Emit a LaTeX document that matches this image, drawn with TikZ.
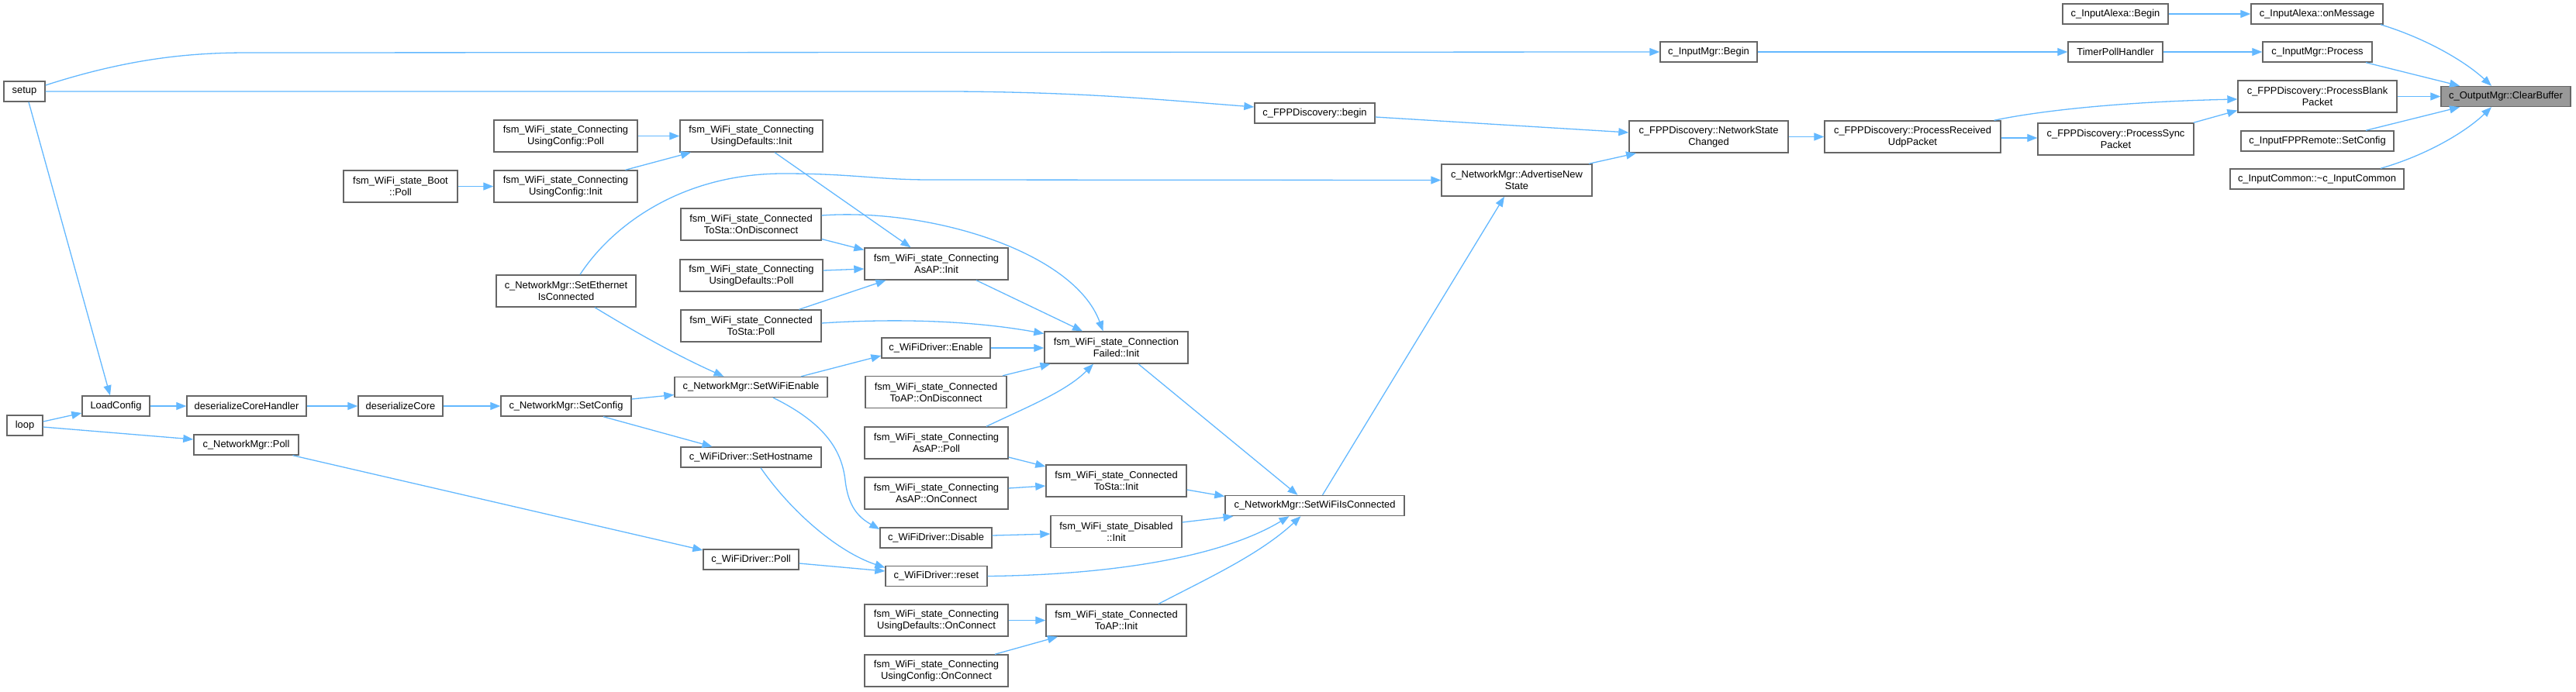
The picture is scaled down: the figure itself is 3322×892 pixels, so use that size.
\documentclass[tikz,border=0pt]{standalone}
\usepackage{fontspec}
\setmainfont{Liberation Sans}
\usetikzlibrary{arrows.meta}
\definecolor{edgeblue}{HTML}{63B8FF}
\definecolor{nodeborder}{HTML}{666666}
\definecolor{nodegray}{HTML}{999999}
\tikzset{
  box/.style={draw=nodeborder, fill=white, line width=1.4pt, inner sep=0pt, minimum height=26pt, align=center, font=\fontsize{12.9}{15}\selectfont},
  box2/.style={box, minimum height=41pt},
  focus/.style={box, fill=nodegray},
  edge/.style={draw=edgeblue, line width=1.3pt, -{Triangle[length=13pt,width=10pt]}}
}
\begin{document}
\begin{tikzpicture}[x=1pt,y=-1pt]
\useasboundingbox (0,0) rectangle (3322,892);
% column 1
\node[box, minimum width=53pt] (setup) at (31.5,118) {setup};
\node[box, minimum width=46pt] (loop) at (32,549) {loop};
% column 2
\node[box, minimum width=87pt] (loadconfig) at (149.5,524) {LoadConfig};
% column 3
\node[box, minimum width=154pt] (dch) at (318,524) {deserializeCoreHandler};
\node[box, minimum width=135pt] (nmpoll) at (317.5,574) {c\_NetworkMgr::Poll};
% column 4
\node[box2, minimum width=147pt] (bootpoll) at (516.5,240.5) {fsm\_WiFi\_state\_Boot\\::Poll};
\node[box, minimum width=109pt] (dc) at (516.5,524) {deserializeCore};
% column 5
\node[box2, minimum width=185pt] (ucpoll) at (729.5,175.5) {fsm\_WiFi\_state\_Connecting\\UsingConfig::Poll};
\node[box2, minimum width=185pt] (ucinit) at (729.5,240.5) {fsm\_WiFi\_state\_Connecting\\UsingConfig::Init};
\node[box2, minimum width=180pt] (ethernet) at (730,375.5) {c\_NetworkMgr::SetEthernet\\IsConnected};
\node[box, minimum width=168pt] (setconfig) at (730,524) {c\_NetworkMgr::SetConfig};
% column 6
\node[box2, minimum width=184pt] (udinit) at (969,175.5) {fsm\_WiFi\_state\_Connecting\\UsingDefaults::Init};
\node[box2, minimum width=181pt] (stadisc) at (968.5,289.5) {fsm\_WiFi\_state\_Connected\\ToSta::OnDisconnect};
\node[box2, minimum width=184pt] (udpoll) at (969,355.5) {fsm\_WiFi\_state\_Connecting\\UsingDefaults::Poll};
\node[box2, minimum width=181pt] (stapoll) at (968.5,420.5) {fsm\_WiFi\_state\_Connected\\ToSta::Poll};
\node[box, minimum width=197pt] (wifienable) at (968.5,499.5) {c\_NetworkMgr::SetWiFiEnable};
\node[box, minimum width=181pt] (hostname) at (968.5,590) {c\_WiFiDriver::SetHostname};
\node[box, minimum width=123pt] (wdpoll) at (968.5,722) {c\_WiFiDriver::Poll};
% column 7
\node[box2, minimum width=185pt] (asapinit) at (1207.5,340.5) {fsm\_WiFi\_state\_Connecting\\AsAP::Init};
\node[box, minimum width=140pt] (enable) at (1207,449) {c\_WiFiDriver::Enable};
\node[box2, minimum width=182pt] (apdisc) at (1207,506) {fsm\_WiFi\_state\_Connected\\ToAP::OnDisconnect};
\node[box2, minimum width=185pt] (asappoll) at (1207.5,571.5) {fsm\_WiFi\_state\_Connecting\\AsAP::Poll};
\node[box2, minimum width=185pt] (asaponconn) at (1207.5,636.5) {fsm\_WiFi\_state\_Connecting\\AsAP::OnConnect};
\node[box, minimum width=144pt] (disable) at (1207,694) {c\_WiFiDriver::Disable};
\node[box, minimum width=131pt] (reset) at (1207.5,743.5) {c\_WiFiDriver::reset};
\node[box2, minimum width=185pt] (udonconn) at (1207.5,800.5) {fsm\_WiFi\_state\_Connecting\\UsingDefaults::OnConnect};
\node[box2, minimum width=185pt] (ucononn) at (1207.5,865.5) {fsm\_WiFi\_state\_Connecting\\UsingConfig::OnConnect};
% column 8
\node[box2, minimum width=185pt] (cfinit) at (1439.5,448.5) {fsm\_WiFi\_state\_Connection\\Failed::Init};
\node[box2, minimum width=181pt] (stainit) at (1439.5,620.5) {fsm\_WiFi\_state\_Connected\\ToSta::Init};
\node[box2, minimum width=169pt] (disinit) at (1439.5,686) {fsm\_WiFi\_state\_Disabled\\::Init};
\node[box2, minimum width=181pt] (apinit) at (1439.5,800.5) {fsm\_WiFi\_state\_Connected\\ToAP::Init};
% column 9
\node[box, minimum width=155pt] (fbegin) at (1695.5,146) {c\_FPPDiscovery::begin};
\node[box, minimum width=231pt] (wifiis) at (1695.5,652.5) {c\_NetworkMgr::SetWiFiIsConnected};
% column 10
\node[box2, minimum width=194pt] (advertise) at (1956,232.5) {c\_NetworkMgr::AdvertiseNew\\State};
% column 11
\node[box, minimum width=125pt] (imbegin) at (2203.5,67) {c\_InputMgr::Begin};
\node[box2, minimum width=205pt] (nsc) at (2203.5,176.5) {c\_FPPDiscovery::NetworkState\\Changed};
% column 12
\node[box2, minimum width=227pt] (prup) at (2466.5,176.5) {c\_FPPDiscovery::ProcessReceived\\UdpPacket};
% column 13
\node[box, minimum width=136pt] (alexabegin) at (2728,18) {c\_InputAlexa::Begin};
\node[box, minimum width=122pt] (timerpoll) at (2728,67) {TimerPollHandler};
\node[box2, minimum width=201pt] (sync) at (2728.5,179.5) {c\_FPPDiscovery::ProcessSync\\Packet};
% column 14
\node[box, minimum width=170pt] (onmsg) at (2988,18) {c\_InputAlexa::onMessage};
\node[box, minimum width=141pt] (process) at (2988.5,67) {c\_InputMgr::Process};
\node[box2, minimum width=205pt] (blank) at (2988.5,124.5) {c\_FPPDiscovery::ProcessBlank\\Packet};
\node[box, minimum width=197pt] (fppremote) at (2988.5,182) {c\_InputFPPRemote::SetConfig};
\node[box, minimum width=224pt] (inputcommon) at (2988,231) {c\_InputCommon::\textasciitilde c\_InputCommon};
% column 15
\node[focus, minimum width=167pt] (clear) at (3231.5,124.5) {c\_OutputMgr::ClearBuffer};

% edges
\draw[edge] ([yshift=8pt]setup.east) .. controls (170,74) and (250,68) .. (320,68) -- (imbegin.west);
\draw[edge] (setup.east) -- (1230,118) .. controls (1400,119) and (1500,129) .. ([yshift=8pt]fbegin.west);
\draw[edge] ([xshift=5.5pt]setup.south) -- ([xshift=-7.5pt]loadconfig.north);
\draw[edge] ([yshift=5pt]loop.east) -- ([yshift=-9pt]loadconfig.west);
\draw[edge] ([yshift=-2pt]loop.east) -- ([yshift=7pt]nmpoll.west);
\draw[edge] (loadconfig.east) -- (dch.west);
\draw[edge] (dch.east) -- (dc.west);
\draw[edge] (dc.east) -- (setconfig.west);
\draw[edge] ([yshift=9pt]setconfig.east) -- ([yshift=-10pt]wifienable.west);
\draw[edge] ([xshift=48pt]setconfig.south) -- ([xshift=-50pt]hostname.north);
\draw[edge] ([xshift=37pt]ethernet.south) .. controls (830,435) and (880,462) .. ([xshift=-35pt]wifienable.north);
\draw[edge] ([xshift=18pt]ethernet.north) .. controls (790,290) and (880,224) .. (1010,224) .. controls (1100,224) and (1130,232) .. (1200,232) -- (advertise.west);
\draw[edge] (ucpoll.east) -- (udinit.west);
\draw[edge] ([xshift=77pt]ucinit.north) -- ([xshift=-78pt]udinit.south);
\draw[edge] (bootpoll.east) -- (ucinit.west);
\draw[edge] ([xshift=30pt]udinit.south) -- ([xshift=-33pt]asapinit.north);
\draw[edge] ([yshift=-19pt]stadisc.east) -- ([yshift=18pt]asapinit.west);
\draw[edge] ([yshift=11.5pt]stadisc.east) .. controls (1200,268) and (1385,325) .. ([xshift=-17pt]cfinit.north);
\draw[edge] ([yshift=6.5pt]udpoll.east) -- ([yshift=-6.5pt]asapinit.west);
\draw[edge] ([xshift=62pt]stapoll.north) -- ([xshift=-65pt]asapinit.south);
\draw[edge] ([yshift=3.5pt]stapoll.east) .. controls (1150,411) and (1250,413) .. ([yshift=18pt]cfinit.west);
\draw[edge] ([xshift=51.5pt]asapinit.south) -- ([xshift=-43.5pt]cfinit.north);
\draw[edge] (enable.east) -- (cfinit.west |- enable.east);
\draw[edge] ([xshift=64.5pt]wifienable.north) -- ([yshift=-10pt]enable.west);
\draw[edge] ([xshift=28.5pt]wifienable.south) .. controls (1068,548) and (1086,585) .. (1090,620) .. controls (1094,655) and (1108,668) .. ([yshift=11pt]disable.west);
\draw[edge] ([xshift=86pt]apdisc.north) -- ([xshift=-85pt]cfinit.south);
\draw[edge] ([xshift=64.5pt]asappoll.north) .. controls (1325,525) and (1375,505) .. ([xshift=-29.5pt]cfinit.south);
\draw[edge] ([yshift=-18.5pt]asappoll.east) -- ([yshift=18.5pt]stainit.west);
\draw[edge] ([yshift=6.5pt]asaponconn.east) -- ([yshift=-6.5pt]stainit.west);
\draw[edge] ([yshift=3pt]disable.east) -- ([yshift=-3pt]disinit.west);
\draw[edge] ([xshift=12.5pt]hostname.south) .. controls (1020,660) and (1080,712) .. ([yshift=11pt]reset.west);
\draw[edge] ([yshift=-5pt]wdpoll.east) -- ([yshift=6.5pt]reset.west);
\draw[edge] ([xshift=60pt]nmpoll.south) -- ([yshift=12pt]wdpoll.west);
\draw[edge] (reset.east) .. controls (1420,742) and (1570,722) .. ([xshift=-33pt]wifiis.south);
\draw[edge] ([xshift=54.5pt]apinit.north) .. controls (1560,745) and (1625,715) .. ([xshift=-18pt]wifiis.south);
\draw[edge] (udonconn.east) -- (apinit.west);
\draw[edge] ([xshift=75.5pt]ucononn.north) -- ([xshift=-75.5pt]apinit.south);
\draw[edge] ([xshift=28.5pt]cfinit.south) -- ([xshift=-22pt]wifiis.north);
\draw[edge] ([yshift=-11.5pt]stainit.east) -- ([yshift=12pt]wifiis.west);
\draw[edge] ([yshift=12pt]disinit.east) -- ([xshift=-105pt]wifiis.south);
\draw[edge] ([xshift=10pt]wifiis.north) -- ([xshift=-16pt]advertise.south);
\draw[edge] ([yshift=-5pt]fbegin.east) -- ([yshift=5.5pt]nsc.west);
\draw[edge] ([xshift=93pt]advertise.north) -- ([xshift=-93.5pt]nsc.south);
\draw[edge] (nsc.east) -- (prup.west);
\draw[edge] (imbegin.east) -- (timerpoll.west);
\draw[edge] ([yshift=-1.5pt]prup.east) -- ([yshift=1.5pt]sync.west);
\draw[edge] ([xshift=105pt]prup.north) .. controls (2640,141) and (2750,131) .. ([yshift=-3.5pt]blank.west);
\draw[edge] ([xshift=-1pt]sync.north east) -- ([yshift=-18pt]blank.west);
\draw[edge] (alexabegin.east) -- (onmsg.west);
\draw[edge] (timerpoll.east) -- (process.west);
\draw[edge] ([xshift=82pt]onmsg.south) .. controls (3130,50) and (3180,80) .. ([xshift=-18.5pt]clear.north);
\draw[edge] ([xshift=62.5pt]process.south) -- ([xshift=-59.5pt]clear.north);
\draw[edge] (blank.east) -- (clear.west);
\draw[edge] ([xshift=62.5pt]fppremote.north) -- ([xshift=-59.5pt]clear.south);
\draw[edge] ([xshift=82pt]inputcommon.north) .. controls (3130,200) and (3180,170) .. ([xshift=-18.5pt]clear.south);
\end{tikzpicture}
\end{document}
